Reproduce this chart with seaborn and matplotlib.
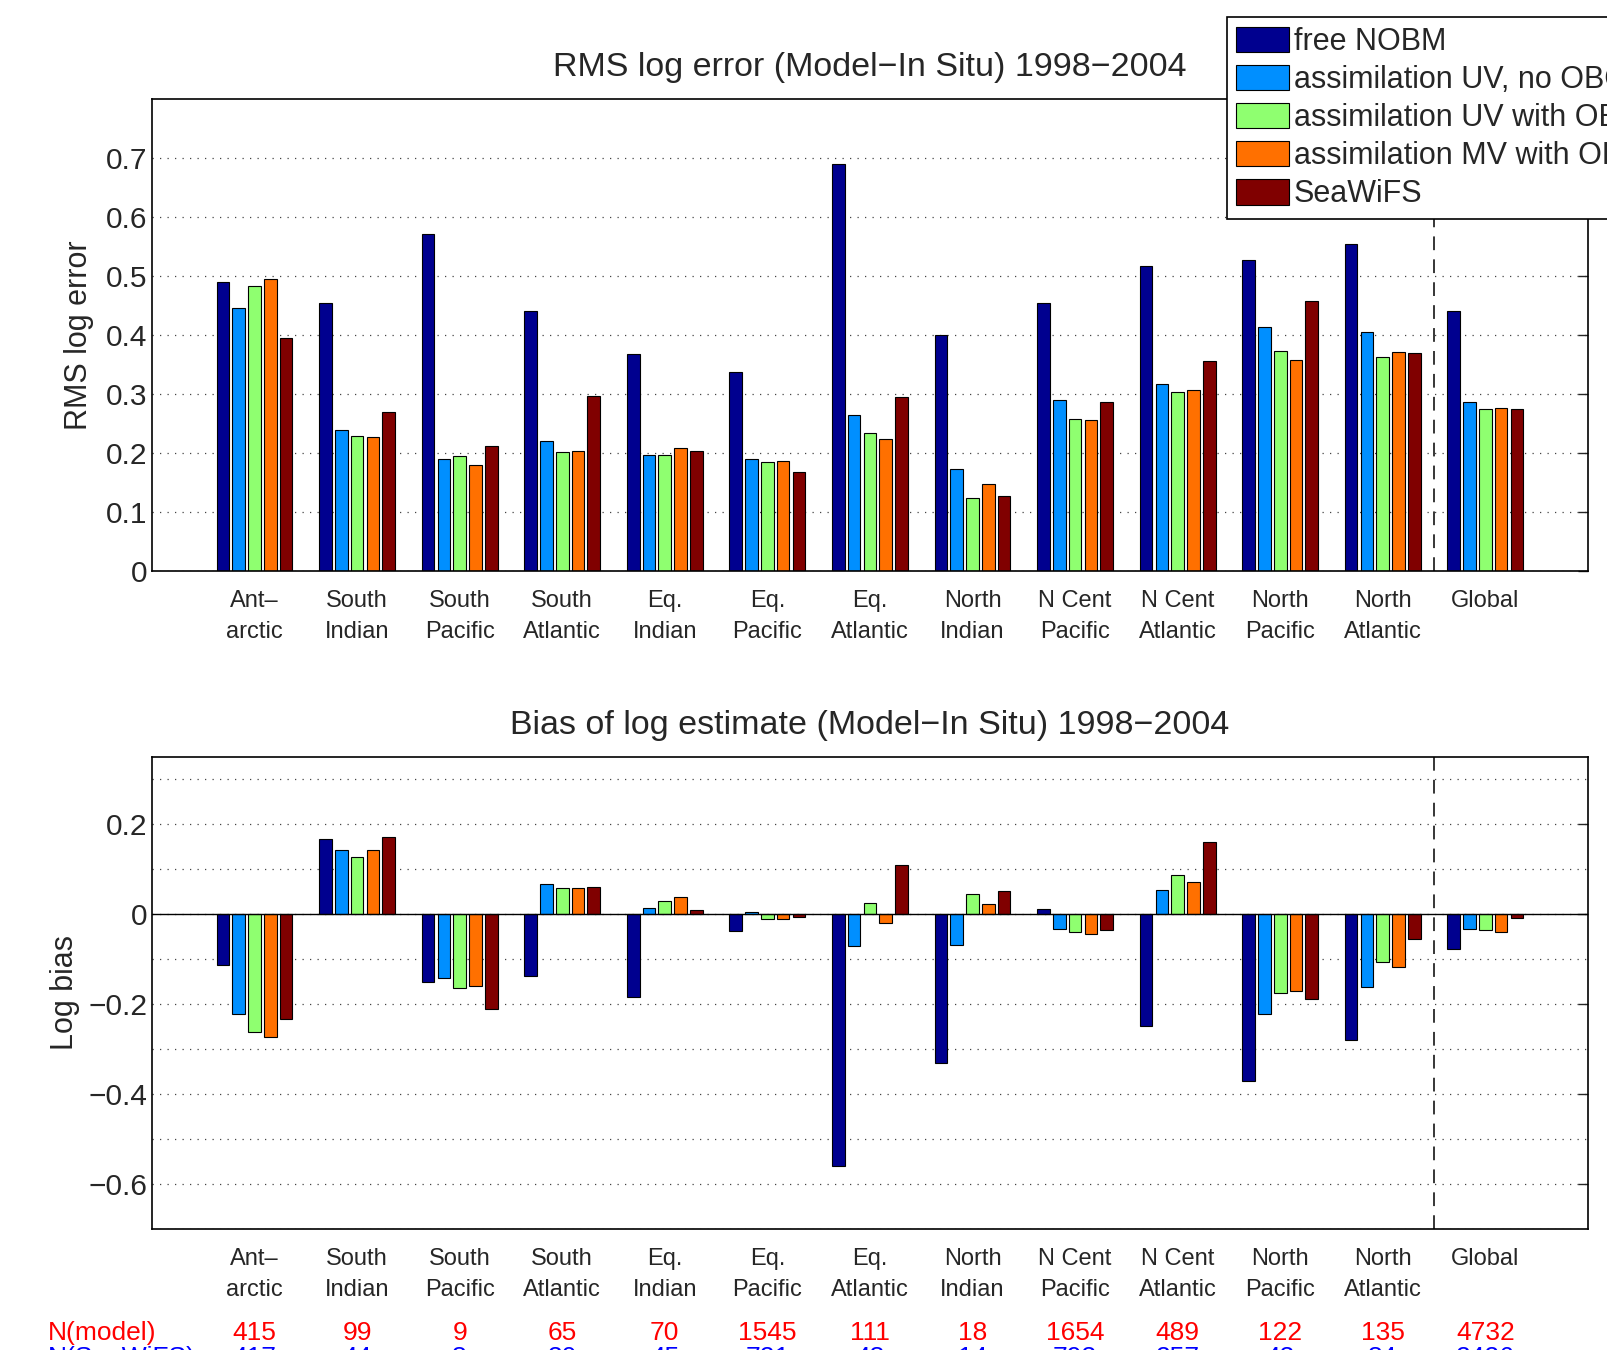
import matplotlib
matplotlib.use('Agg')
from matplotlib import pyplot as plt
from matplotlib import transforms
from matplotlib.ticker import FixedLocator, MultipleLocator, FuncFormatter
import pandas as pd
import numpy as np
import seaborn as sns

# regions (x axis)
regions = ['Ant\u2013\narctic', 'South\nIndian', 'South\nPacific', 'South\nAtlantic',
           'Eq.\nIndian', 'Eq.\nPacific', 'Eq.\nAtlantic', 'North\nIndian',
           'N Cent\nPacific', 'N Cent\nAtlantic', 'North\nPacific', 'North\nAtlantic', 'Global']
series = ['free NOBM', 'assimilation UV, no OBC', 'assimilation UV with OBC',
          'assimilation MV with OBC', 'SeaWiFS']
colors = ['#00008F', '#008FFF', '#8FFF70', '#FF7000', '#800000']

# RMS log error
rms_free = [0.490, 0.453, 0.571, 0.441, 0.368, 0.337, 0.690, 0.399, 0.453, 0.517, 0.526, 0.553, 0.441]
rms_uv = [0.445, 0.239, 0.189, 0.220, 0.197, 0.190, 0.265, 0.173, 0.289, 0.316, 0.413, 0.405, 0.286]
rms_uvobc = [0.482, 0.228, 0.194, 0.201, 0.197, 0.184, 0.234, 0.123, 0.257, 0.303, 0.372, 0.363, 0.274]
rms_mv = [0.495, 0.227, 0.180, 0.203, 0.209, 0.187, 0.224, 0.148, 0.256, 0.307, 0.358, 0.371, 0.276]
rms_sw = [0.395, 0.269, 0.212, 0.296, 0.204, 0.168, 0.294, 0.127, 0.287, 0.355, 0.457, 0.369, 0.275]

# log bias
bias_free = [-0.113, 0.166, -0.151, -0.137, -0.184, -0.037, -0.560, -0.331, 0.012, -0.248, -0.372, -0.280, -0.077]
bias_uv = [-0.222, 0.143, -0.142, 0.067, 0.013, 0.004, -0.072, -0.068, -0.034, 0.053, -0.223, -0.163, -0.033]
bias_uvobc = [-0.262, 0.126, -0.165, 0.057, 0.030, -0.010, 0.024, 0.045, -0.039, 0.087, -0.176, -0.106, -0.035]
bias_mv = [-0.273, 0.143, -0.160, 0.057, 0.038, -0.012, -0.020, 0.023, -0.044, 0.072, -0.171, -0.117, -0.040]
bias_sw = [-0.234, 0.172, -0.211, 0.060, 0.010, -0.007, 0.108, 0.052, -0.036, 0.159, -0.188, -0.055, -0.008]

n_model = [415, 99, 9, 65, 70, 1545, 111, 18, 1654, 489, 122, 135, 4732]
n_seawifs = [417, 44, 8, 30, 45, 721, 48, 14, 793, 257, 43, 84, 2426]

def long_df(cols):
    rows = []
    for s, vals in zip(series, cols):
        for r, v in zip(regions, vals):
            rows.append({'region': r, 'series': s, 'value': v})
    return pd.DataFrame(rows)

df_rms = long_df([rms_free, rms_uv, rms_uvobc, rms_mv, rms_sw])
df_bias = long_df([bias_free, bias_uv, bias_uvobc, bias_mv, bias_sw])

sns.set_style('white')
plt.rcParams['font.family'] = ['Liberation Sans', 'DejaVu Sans']
plt.rcParams['axes.unicode_minus'] = True

fig = plt.figure(figsize=(16.08, 13.5), dpi=100)
ax1 = fig.add_axes([0.0945, 0.577, 0.893, 0.350])
ax2 = fig.add_axes([0.0945, 0.0896, 0.893, 0.350])

fmt = FuncFormatter(lambda v, p: ('%g' % round(v, 3)).replace('-', '\u2212'))

for ax, df in [(ax1, df_rms), (ax2, df_bias)]:
    sns.barplot(data=df, x='region', y='value', hue='series', palette=colors,
                saturation=1, width=0.77, gap=0.2, edgecolor='black', linewidth=0.8,
                ax=ax, legend=(ax is ax1))
    ax.set_xlim(-1, 13)
    ax.set_xlabel('')
    ax.axvline(11.5, color='black', ls=(0, (9, 6)), lw=1.1, zorder=0.5)
    ax.tick_params(axis='x', length=0, pad=14, labelsize=17)
    for lab in ax.get_xticklabels():
        lab.set_linespacing(1.5)
    ax.tick_params(axis='y', which='both', direction='in', right=True, length=7,
                   labelsize=21.5, width=1)
    ax.tick_params(axis='y', which='minor', length=0)
    ax.yaxis.set_major_formatter(fmt)
    ax.set_axisbelow(True)
    for sp in ax.spines.values():
        sp.set_visible(True)
        sp.set_color('black')
        sp.set_linewidth(1.2)

ax1.set_ylim(0, 0.8)
ax1.yaxis.set_major_locator(FixedLocator([0, 0.1, 0.2, 0.3, 0.4, 0.5, 0.6, 0.7]))
ax1.grid(axis='y', which='major', ls=(0, (1, 5)), color='#444444', lw=0.9)
ax1.set_ylabel('RMS log error', fontsize=22, labelpad=8)
ax1.set_title('RMS log error (Model\u2212In Situ) 1998\u22122004', fontsize=24.5, pad=16)

ax2.set_ylim(-0.7, 0.35)
ax2.yaxis.set_major_locator(FixedLocator([-0.6, -0.4, -0.2, 0, 0.2]))
ax2.yaxis.set_minor_locator(MultipleLocator(0.1))
ax2.grid(axis='y', which='both', ls=(0, (1, 5)), color='#444444', lw=0.9)
ax2.axhline(0, color='black', lw=1.0, zorder=1)
ax2.set_ylabel('Log bias', fontsize=22, labelpad=6)
ax2.set_title('Bias of log estimate (Model\u2212In Situ) 1998\u22122004', fontsize=24.5, pad=16)

# legend, running past the right edge like the original
handles, labels = ax1.get_legend_handles_labels()
ax1.get_legend().remove()
leg = fig.legend(handles, labels, loc='upper left', bbox_to_anchor=(1227 / 1608, 1 - 17.4 / 1350),
                 borderaxespad=0, borderpad=0.3, handlelength=1.74, handleheight=0.9,
                 handletextpad=0.15, labelspacing=0.26, fontsize=22, fancybox=False,
                 frameon=True, edgecolor='black', framealpha=1)
leg.get_frame().set_linewidth(1.2)

# sample counts below lower panel (second row is cut by the figure edge, as in the original)
tr = transforms.blended_transform_factory(ax2.transData, ax2.transAxes)
trl = transforms.blended_transform_factory(fig.transFigure, ax2.transAxes)
fig.text(0.030, -0.235, 'N(model)', transform=trl, color='red', fontsize=19, va='baseline')
fig.text(0.030, -0.288, 'N(SeaWiFS)', transform=trl, color='blue', fontsize=19, va='baseline')
for i, (a, b) in enumerate(zip(n_model, n_seawifs)):
    ax2.text(i, -0.235, str(a), transform=tr, color='red', fontsize=19, ha='center', va='baseline', clip_on=False)
    ax2.text(i, -0.288, str(b), transform=tr, color='blue', fontsize=19, ha='center', va='baseline', clip_on=False)

fig.savefig('out.png', dpi=100)
